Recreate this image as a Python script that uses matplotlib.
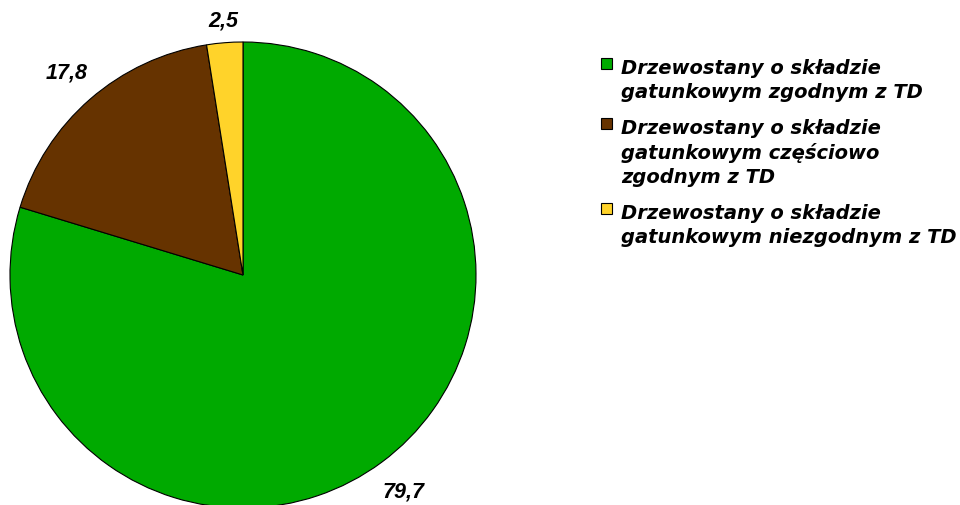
import numpy as np
import matplotlib.pyplot as plt
from matplotlib.patches import Rectangle

# udzial drzewostanow wg zgodnosci skladu gatunkowego z TD [%]
categories = ['Drzewostany o składzie\ngatunkowym zgodnym z TD',
              'Drzewostany o składzie\ngatunkowym częściowo\nzgodnym z TD',
              'Drzewostany o składzie\ngatunkowym niezgodnym z TD']
values = [79.7, 17.8, 2.5]
value_labels = ['79,7', '17,8', '2,5']
colors = ['#00AA00', '#663300', '#FFD32A']

W, H = 960, 505
fig = plt.figure(figsize=(W / 100, H / 100), dpi=100)
ax = fig.add_axes([0, 0, 1, 1])

font = dict(family=['Liberation Sans', 'DejaVu Sans'], weight='bold', style='italic')
cx, cy, R = 243, H - 275, 233

wedges, _ = ax.pie(values, colors=colors, startangle=90, counterclock=False,
                   center=(cx, cy), radius=R,
                   wedgeprops=dict(edgecolor='black', linewidth=0.8))
ax.set_xlim(0, W)
ax.set_ylim(0, H)
ax.set_aspect('equal')
ax.axis('off')

# etykiety wartosci
dists = [1.16, 1.15, 1.095]
for w, lab, d in zip(wedges, value_labels, dists):
    a = np.deg2rad((w.theta1 + w.theta2) / 2)
    ax.text(cx + R * d * np.cos(a), cy + R * d * np.sin(a), lab,
            ha='center', va='center', fontsize=15.5, **font)

# legenda
font_leg = dict(family=['DejaVu Sans'], weight='bold', style='italic')
tops = [58, 118, 203]
for lab, col, top in zip(categories, colors, tops):
    ax.add_patch(Rectangle((601, H - top - 11), 11, 11, facecolor=col,
                           edgecolor='black', linewidth=0.8, clip_on=False))
    ax.text(621, H - top - 1, lab, ha='left', va='top', fontsize=14,
            linespacing=1.33, **font_leg)

fig.savefig('out.png', dpi=100)
